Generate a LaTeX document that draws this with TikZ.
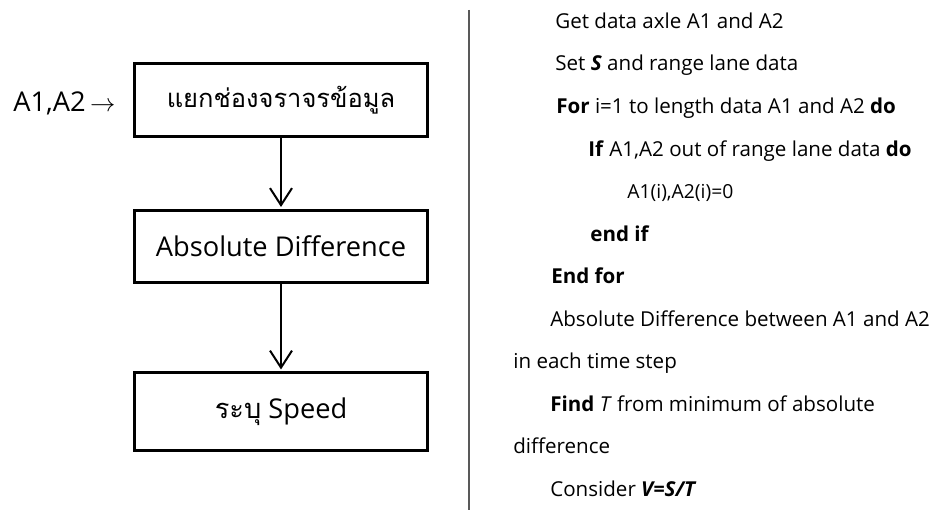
\documentclass[tikz,border=0pt]{standalone}
\usepackage{fontspec}
\setmainfont{Open Sans}
\newfontfamily\thaifont[Script=Thai]{Loma}
\usetikzlibrary{arrows.meta,positioning}

\begin{document}
\begin{tikzpicture}[x=0.02cm,y=-0.02cm,>={Straight Barb[length=0.34cm,width=0.44cm]},
  box/.style={draw,line width=0.06cm,minimum width=5.85cm,minimum height=1.45cm,inner sep=0pt,font=\fontsize{15.5}{19}\selectfont},
  flow/.style={->,line width=0.04cm,shorten >=1pt},
  code/.style={anchor=base west,inner sep=0pt,font=\fontsize{11.7}{14}\selectfont}]
  \useasboundingbox (0,0) rectangle (944,510);
  % flow chart
  \node[box] (sep) at (281,100) {\thaifont\fontsize{14.5}{18}\selectfont แยกช่องจราจรข้อมูล};
  \node[box,below=1.42cm of sep] (absd) {Absolute Difference};
  \node[box,minimum height=1.55cm,below=1.74cm of absd] (spd) {{\thaifont ระบุ} Speed};
  \node[anchor=west,inner sep=0pt,font=\fontsize{15.5}{19}\selectfont] (inp) at (13,103) {A1,A2\,$\rightarrow$};
  \draw[flow] (sep) -- (absd);
  \draw[flow] (absd) -- (spd);
  % separator
  \draw[line width=0.04cm,black!65] (469,10) -- (469,510);
  % pseudo code
  \node[code] (l1) at (555,28.5) {Get data axle A1 and A2};
  \node[code] (l2) at (555,71) {Set \textbf{\textit{S}} and range lane data};
  \node[code] (l3) at (556,113.5) {\textbf{For} i=1 to length data A1 and A2 \textbf{do}};
  \node[code] (l4) at (588,156) {\textbf{If} A1,A2 out of range lane data \textbf{do}};
  \node[code,font=\fontsize{11}{13}\selectfont] (l5) at (627,198.5) {A1(i),A2(i)=0};
  \node[code] (l6) at (590,241) {\textbf{end if}};
  \node[code] (l7) at (551,283.5) {\textbf{End for}};
  \node[code] (l8) at (550,326) {Absolute Difference between A1 and A2};
  \node[code] (l9) at (513,368.5) {in each time step};
  \node[code] (l10) at (550,411) {\textbf{Find} \textit{T} from minimum of absolute};
  \node[code] (l11) at (513,453.5) {difference};
  \node[code] (l12) at (550,496) {Consider \textbf{\textit{V=S/T}}};
\end{tikzpicture}
\end{document}
